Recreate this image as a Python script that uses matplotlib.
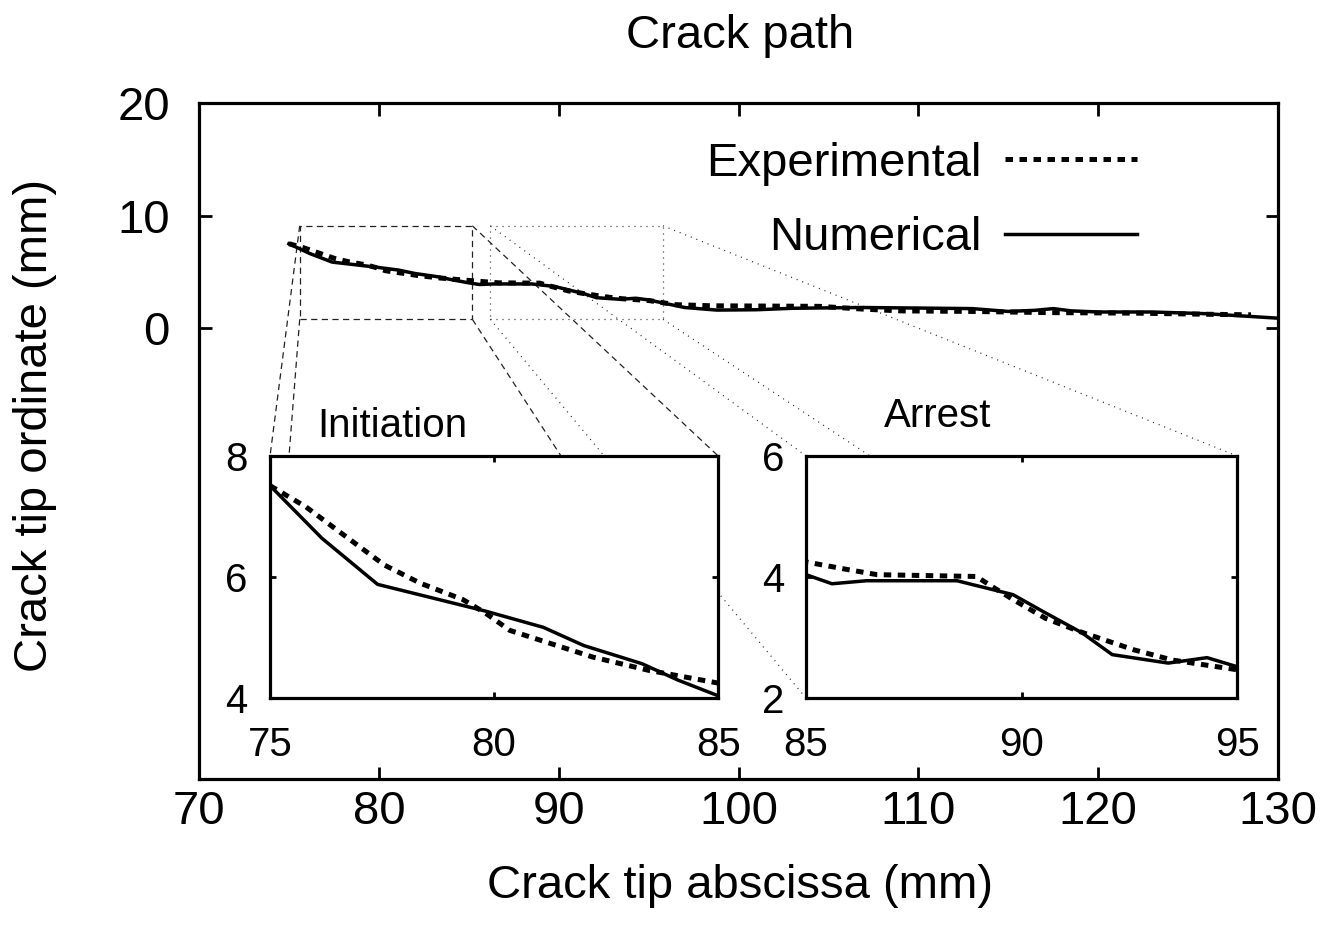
import matplotlib
matplotlib.use('Agg')
import matplotlib.pyplot as plt
from matplotlib.patches import Rectangle

plt.rcParams['font.family'] = ['Liberation Sans', 'DejaVu Sans']

# crack tip path, numerical simulation (mm)
num_x = [75.0, 76.16, 77.4, 79.8, 81.1, 82.0, 83.3, 84.1, 85.0, 85.6, 86.4, 88.5,
         89.8, 90.5, 91.4, 92.1, 93.4, 94.3, 95.0, 97.0, 98.8, 101.0, 103.0, 106.8,
         110.0, 113.0, 115.0, 116.5, 117.5, 118.5, 120.0, 123.0, 126.0, 128.0, 130.0]
num_y = [7.51, 6.64, 5.88, 5.44, 5.17, 4.87, 4.57, 4.30, 4.04, 3.89, 3.94, 3.94,
         3.71, 3.43, 3.08, 2.72, 2.58, 2.67, 2.52, 1.85, 1.62, 1.65, 1.78, 1.85,
         1.80, 1.75, 1.50, 1.60, 1.75, 1.55, 1.45, 1.45, 1.30, 1.10, 0.90]

# crack tip path, experiment (mm)
exp_x = [75.0, 75.8, 76.6, 77.55, 78.35, 79.3, 79.8, 80.35, 81.4, 82.2, 83.45, 85.0,
         86.0, 86.65, 88.95, 89.3, 89.8, 90.55, 91.35, 92.6, 93.5, 94.25, 95.0,
         96.5, 98.5, 101.0, 104.5, 107.0, 109.0, 113.0, 117.0, 122.0, 126.0, 128.5]
exp_y = [7.51, 7.16, 6.72, 6.20, 5.90, 5.63, 5.41, 5.12, 4.87, 4.68, 4.46, 4.25,
         4.12, 4.04, 4.01, 3.85, 3.63, 3.32, 3.10, 2.80, 2.63, 2.55, 2.47,
         2.10, 2.00, 1.98, 1.95, 1.70, 1.55, 1.50, 1.40, 1.35, 1.25, 1.20]

main_xticks = [70, 80, 90, 100, 110, 120, 130]
main_yticks = [0, 10, 20]

FS = 34
FS_IN = 29
exp_style = dict(color='black', lw=3.6, linestyle=(0, (1.5, 1.3)))
num_style = dict(color='black', lw=2.5, linestyle='-')

fig = plt.figure(figsize=(13.43, 9.26), dpi=100)
ax = fig.add_axes([199 / 1343, 1 - 779 / 926, (1278 - 199) / 1343, (779 - 103) / 926])

ax.plot(exp_x, exp_y, label='Experimental', **exp_style)
ax.plot(num_x, num_y, label='Numerical', **num_style)
ax.set_xlim(70, 130)
ax.set_ylim(-40, 20)
ax.set_xticks(main_xticks)
ax.set_yticks(main_yticks)
ax.tick_params(direction='in', length=9, width=2, top=True, right=True, labelsize=FS)
ax.tick_params(axis='x', pad=8)
ax.tick_params(axis='y', pad=21)
for s in ax.spines.values():
    s.set_linewidth(2.3)

leg = ax.legend(loc='center right', bbox_to_anchor=(1137 / 1343, 1 - 201 / 926),
                bbox_transform=fig.transFigure, frameon=False, markerfirst=False,
                handlelength=2.8, handletextpad=0.5, labelspacing=0.64,
                borderpad=0, borderaxespad=0, fontsize=FS)

fig.text(0.551, 0.961, 'Crack path', ha='center', va='center', fontsize=FS)
fig.text(0.551, 0.043, 'Crack tip abscissa (mm)', ha='center', va='center', fontsize=FS)
fig.text(0.026, 0.541, 'Crack tip ordinate (mm)', ha='center', va='center',
         rotation=90, fontsize=FS)

# zoom boxes on the main path
ry0, ry1 = 0.8, 9.1
boxes = [((75.6, 85.2), (73.95, 98.87), (0, (5, 3.5)), 'Initiation', (75, 85), (4, 8),
          [75, 80, 85], [4, 6, 8], (0.272, 1.125)),
         ((86.2, 95.8), (103.76, 127.73), (0, (0.8, 4)), 'Arrest', (85, 95), (2, 6),
          [85, 90, 95], [2, 4, 6], (0.306, 1.165))]
iy0, iy1 = -32.83, -11.33

for (bx0, bx1), (ix0, ix1), ls, name, xl, yl, xt, yt, tpos in boxes:
    ax.add_patch(Rectangle((bx0, ry0), bx1 - bx0, ry1 - ry0, fill=False,
                           ec='#222222', lw=0.9, linestyle=ls, zorder=1))
    for (px, py), (qx, qy) in [((bx0, ry1), (ix0, iy1)), ((bx0, ry0), (ix0, iy0)),
                               ((bx1, ry1), (ix1, iy1)), ((bx1, ry0), (ix1, iy0))]:
        ax.plot([px, qx], [py, qy], color='#222222', lw=0.9, linestyle=ls, zorder=1)

    ins = ax.inset_axes([ix0, iy0, ix1 - ix0, iy1 - iy0], transform=ax.transData)
    ins.set_facecolor('white')
    ins.plot(exp_x, exp_y, **exp_style)
    ins.plot(num_x, num_y, **num_style)
    ins.set_xlim(*xl)
    ins.set_ylim(*yl)
    ins.set_xticks(xt)
    ins.set_yticks(yt)
    ins.tick_params(direction='in', length=4, width=2, top=True, right=True,
                    labelsize=FS_IN)
    ins.tick_params(axis='x', pad=20)
    ins.tick_params(axis='y', pad=16)
    for s in ins.spines.values():
        s.set_linewidth(2.3)
    ins.text(tpos[0], tpos[1], name, transform=ins.transAxes, ha='center',
             va='center', fontsize=FS_IN)

fig.savefig('out.png', dpi=100)
